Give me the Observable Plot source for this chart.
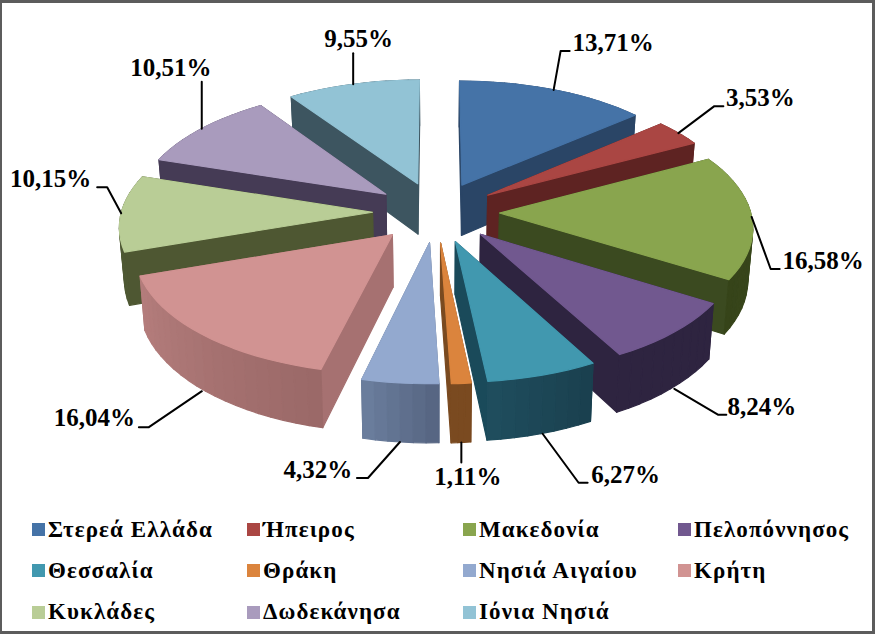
<!DOCTYPE html>
<html>
<head>
<meta charset="utf-8">
<script src="https://cdn.jsdelivr.net/npm/d3@7"></script>
<script src="https://cdn.jsdelivr.net/npm/@observablehq/plot@0.6"></script>
<style>
html,body{margin:0;padding:0;background:#fff;}
#frame{position:relative;width:875px;height:634px;overflow:hidden;background:#fff;font-family:"Liberation Serif",serif;}
#frame svg{position:absolute;left:0;top:0;}
#border{position:absolute;left:0;top:0;right:0;bottom:0;box-sizing:border-box;border-style:solid;border-color:#5c5c5c;border-width:3px 3px 3px 2px;pointer-events:none;}
#legend{position:absolute;left:32px;top:509px;display:grid;grid-template-columns:215px 216px 215px 180px;grid-auto-rows:41.3px;}
.item{display:flex;align-items:center;font-weight:bold;font-size:23px;letter-spacing:1.1px;color:#000;white-space:nowrap;height:41.3px;}
.sw{width:13px;height:13px;margin-right:3px;flex:none;}
</style>
</head>
<body>
<div id="frame"><div id="legend"></div><div id="border"></div></div>
<script>
// Data
const regions = ["Στερεά Ελλάδα","Ήπειρος","Μακεδονία","Πελοπόννησος","Θεσσαλία","Θράκη","Νησιά Αιγαίου","Κρήτη","Κυκλάδες","Δωδεκάνησα","Ιόνια Νησιά"];
const shares = [13.71,3.53,16.58,8.24,6.27,1.11,4.32,16.04,10.15,10.51,9.55];

// Palette
const topColors  = ["#4573a7","#aa4643","#89a54e","#71588f","#4198af","#db843d","#93a9cf","#d19392","#b9cd96","#a99bbd","#92c3d5"];
const wallColors = ["#2a4566","#5e2322","#3b4a20","#2e2440","#1a4a5a","#7a4a20","#5f6f8c","#a67171","#4e5732","#453b55","#3d5560"];
const arcFrom    = ["#2a4566","#5e2322","#3b4a20","#2e2440","#1a3f4e","#7a4a20","#556480","#9a6867","#4e5732","#453b55","#3d5560"];
const arcTo      = ["#2a4566","#5e2322","#364419","#2e2440","#1f4e5e","#7a4a20","#6c7f9f","#b57e7d","#5a6640","#453b55","#3d5560"];

// Leader layout, relative to the point on each slice's rim
const leaderElbow = [[7,-39],[36,-27],[19,52],[44,26],[36,49],[0,20],[-32,36],[-53,36],[-14,-26],[0,-47],[0,-31]];
const leaderRun   = [9,9,9,8,9,0,-11,-10,-10,0,0];
const labelShift  = [[43.5,0],[37,0],[43.5,0],[35.5,0],[38,0],[6.5,23],[-39,0],[-44.5,-1],[-46.5,0],[-31,-6],[5.5,-6]];

// Pie model: exploded slices on a tilted plane with perspective
const spreadX = 251, spreadY = 119.7, persp = 0.102, explode = 0.253, depth = 51.5, taper = 0.016;
const scaleAt = Y => 1 / (1 + persp * Y);
const project = (X, Y, down = 0) => {
  const s = scaleAt(Y);
  return {x: spreadX * X * s * (1 - taper * down), y: -spreadY * Y * s + down * depth * s};
};

const arcs = d3.pie().sort(null).value(d => d)(shares);
const slices = arcs.map((a, i) => {
  const mid = (a.startAngle + a.endAngle) / 2;
  const ox = explode * Math.sin(mid), oy = explode * Math.cos(mid);
  const at = (t, r = 1) => [ox + r * Math.sin(t), oy + r * Math.cos(t)];
  const n = Math.max(3, Math.ceil((a.endAngle - a.startAngle) / (Math.PI / 60)));
  const ts = d3.range(n + 1).map(k => a.startAngle + (a.endAngle - a.startAngle) * k / n);
  return {i, mid, ox, oy, at, ts};
});

const polys = [];
let pid = 0;
const addPoly = (corners, color) => {
  const id = pid++;
  for (const [X, Y, d] of corners) polys.push({id, color, ...project(X, Y, d)});
};
[...slices].sort((a, b) => b.oy - a.oy).forEach(s => {
  const {i, at, ts, ox, oy} = s;
  const wall = t => { const [X, Y] = at(t); return [[ox, oy, 0], [X, Y, 0], [X, Y, 1], [ox, oy, 1]]; };
  const walls = [];
  walls.push({c: wall(ts[0]), col: wallColors[i], y: at(ts[0], .5)[1]});
  walls.push({c: wall(ts[ts.length - 1]), col: wallColors[i], y: at(ts[ts.length - 1], .5)[1]});
  const mix = d3.interpolateRgb(arcFrom[i], arcTo[i]);
  for (let k = 0; k < ts.length - 1; k++) {
    const [x0, y0] = at(ts[k]), [x1, y1] = at(ts[k + 1]);
    const u = (k + .5) / (ts.length - 1);
    walls.push({c: [[x0, y0, 0], [x1, y1, 0], [x1, y1, 1], [x0, y0, 1]], col: mix(u), y: (y0 + y1) / 2});
  }
  walls.sort((a, b) => b.y - a.y).forEach(w => addPoly(w.c, w.col));
  addPoly([[ox, oy, 0], ...ts.map(t => [...at(t), 0])], topColors[i]);
});

// Leaders and labels
const leaders = [], labels = [];
slices.forEach(s => {
  const i = s.i, [X, Y] = s.at(s.mid);
  const p = {x: project(X, Y, 0).x, y: project(X, Y, Math.cos(s.mid) < -0.1 ? 1 : 0).y};
  const e = {x: p.x + leaderElbow[i][0], y: p.y + leaderElbow[i][1]};
  const f = {x: e.x + leaderRun[i], y: e.y};
  leaders.push({id: i, ...p}, {id: i, ...e}, {id: i, ...f});
  labels.push({
    x: f.x + labelShift[i][0],
    y: f.y + labelShift[i][1],
    text: shares[i].toFixed(2).replace(".", ",") + "%"
  });
});

const chart = Plot.plot({
  width: 875, height: 510,
  margin: 0,
  style: {background: "transparent"},
  x: {domain: [-435.5, 439.5], range: [0, 875], axis: null},
  y: {domain: [-211.5, 298.5], range: [0, 510], axis: null},
  color: {type: "identity"},
  marks: [
    Plot.line(polys, {x: "x", y: "y", z: "id", fill: "color", stroke: "color", strokeWidth: 1.2, curve: "linear-closed"}),
    Plot.line(leaders, {x: "x", y: "y", z: "id", stroke: "#000", strokeWidth: 2, curve: "linear"}),
    Plot.text(labels, {x: "x", y: "y", text: "text", dy: -8, fontSize: 25, fontWeight: "bold", fontFamily: "Liberation Serif", fill: "#000"})
  ]
});
const frame = document.getElementById("frame");
frame.insertBefore(chart, frame.firstChild);

// Legend, in the order of the series
const legend = d3.select("#legend");
regions.forEach((r, i) => {
  const it = legend.append("div").attr("class", "item");
  it.append("div").attr("class", "sw").style("background", topColors[i]);
  it.append("span").text(r);
});
</script>
</body>
</html>
